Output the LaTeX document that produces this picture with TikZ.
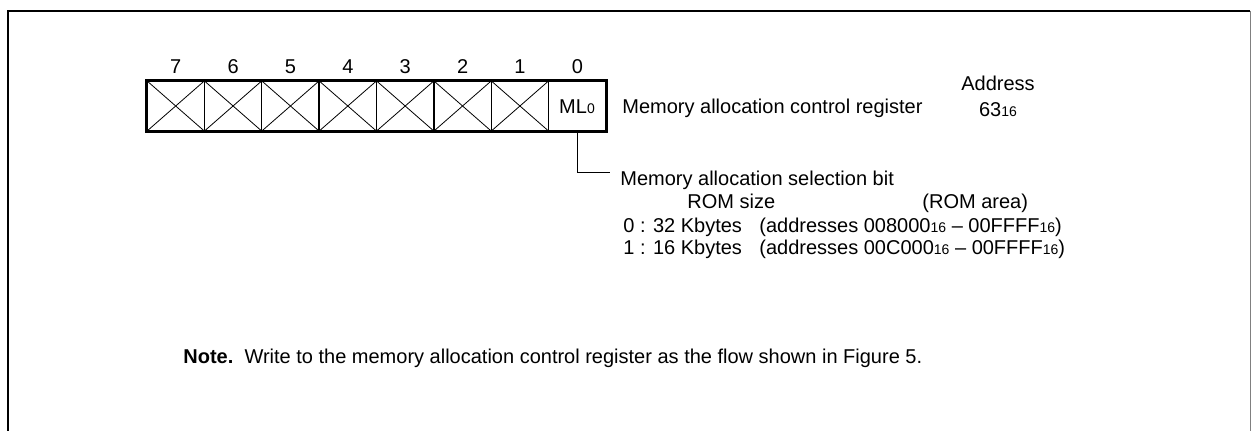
\documentclass[tikz,border=0pt]{standalone}
\usepackage{fontspec}
\setmainfont{Liberation Sans}
\newcommand{\sbs}[1]{{\fontsize{7}{8}\selectfont #1}}
\tikzset{
  bitcell/.style={draw, line width=0.7pt, minimum width=28.69pt, minimum height=25pt, inner sep=0pt},
  txt/.style={anchor=base west, inner sep=0pt},
}
\begin{document}
\begin{tikzpicture}[x=0.5pt, y=-0.5pt, every node/.style={font=\fontsize{10}{12}\selectfont}]
\useasboundingbox (0,0) rectangle (1256,431);
% Frame
\draw[line width=1.2pt] (8,431) -- (8,11) -- (1250,11);
\draw[gray, line width=0.5pt] (1250,11) -- (1250,431);

% Bit cells (7 .. 0) with numbers above
\foreach \n [evaluate=\n as \cx using 147+57.375*(7.5-\n)] in {7,...,0} {
  \node[bitcell] (b\n) at (\cx,106) {};
  \node[anchor=base, inner sep=0pt] (n\n) at (\cx,74) {\n};
}
% unused bits are crossed out
\foreach \n in {7,...,1} {
  \draw[line width=0.4pt] (b\n.north west) -- (b\n.south east);
  \draw[line width=0.4pt] (b\n.south west) -- (b\n.north east);
}
\draw[line width=1pt] (b7.north west) rectangle (b0.south east);
\node[anchor=base, inner sep=0pt] (ml) at (577,114) {ML\sbs{0}};

% Register name and address
\node[txt] (regname) at (622,114) {Memory allocation control register};
\node[anchor=base, inner sep=0pt] (addr) at (998,91) {Address};
\node[anchor=base, inner sep=0pt] (addrval) at (998,117) {63\sbs{16}};

% Bit description
\coordinate (selbit) at (610,173);
\draw[line width=0.5pt] (b0.south) |- (selbit);
\node[txt] (seltitle) at (620,186) {Memory allocation selection bit};
\node[txt] (romsize) at (687,209) {ROM size};
\node[txt] (romarea) at (922,209) {(ROM area)};
\node[txt] (opt0) at (623,233) {0 : 32 Kbytes};
\node[txt] (area0) at (759,233) {(addresses 008000\sbs{16} – 00FFFF\sbs{16})};
\node[txt] (opt1) at (623,255) {1 : 16 Kbytes};
\node[txt] (area1) at (759,255) {(addresses 00C000\sbs{16} – 00FFFF\sbs{16})};

% Note
\node[txt] (note) at (183,364) {\textbf{Note.}\ \ Write to the memory allocation control register as the flow shown in Figure 5.};
\end{tikzpicture}
\end{document}
